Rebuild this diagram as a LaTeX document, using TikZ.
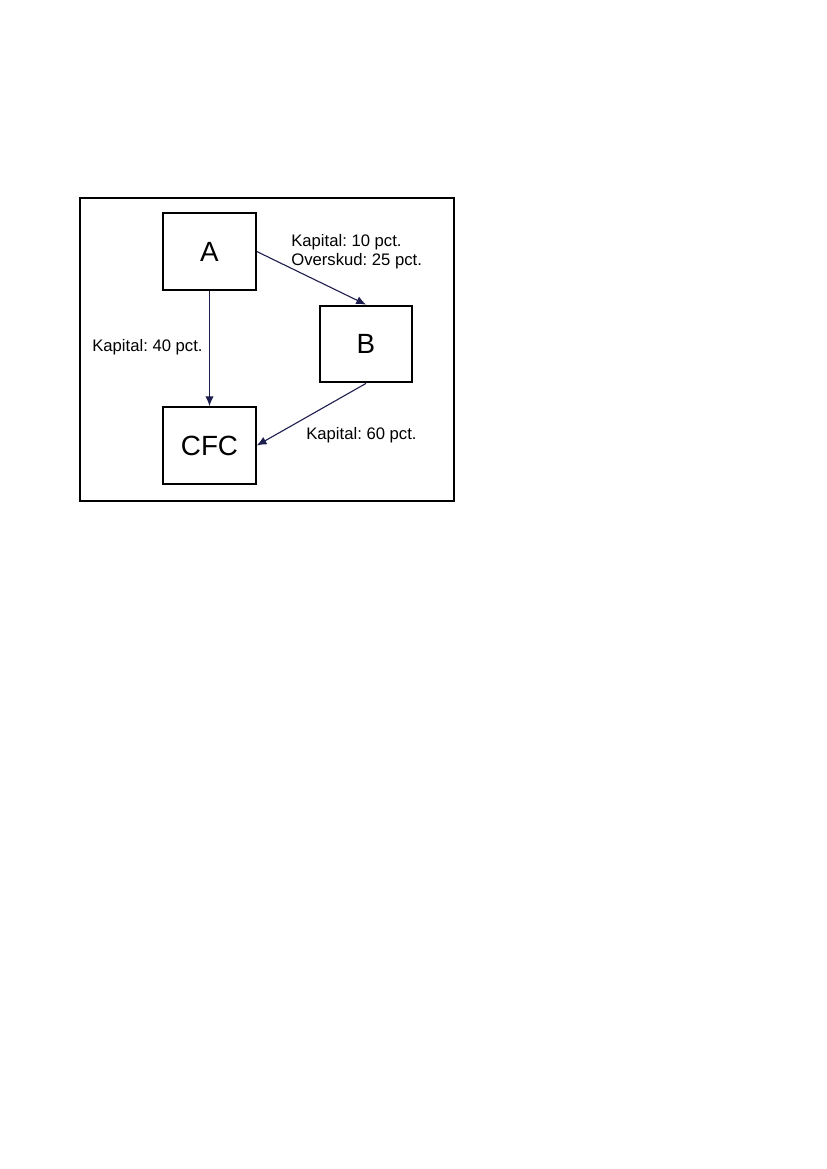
\documentclass[tikz,border=0pt]{standalone}
\usepackage{fontspec}
\setmainfont{Liberation Sans}
\frenchspacing
\usepackage{tikz}
\usetikzlibrary{arrows.meta,positioning}
\definecolor{inknavy}{HTML}{1E1E4E}
\tikzset{
  entbox/.style={
    rectangle, draw=black, line width=1.5pt,
    minimum width=66.5pt, minimum height=55.2pt,
    font=\fontsize{20}{24}\selectfont, inner sep=0pt
  },
  ownarrow/.style={
    -{Latex[length=7pt,width=6pt]}, line width=0.8pt, color=inknavy
  },
  sharelabel/.style={
    font=\fontsize{12}{13.8}\selectfont, align=left, inner sep=0pt
  },
}

\begin{document}
\begin{tikzpicture}[x=0.7195pt, y=-0.7195pt]
  \useasboundingbox (0,0) rectangle (827,1169);

  % outer frame
  \draw[line width=1.5pt] (80,198) rectangle (454,501);

  % companies
  \node[entbox] (A) at (209.5,251.5) {A};
  \node[entbox] (B) at (366,344) {B};
  \node[entbox] (CFC) at (209.5,445.5) {CFC};

  % ownership
  \draw[ownarrow] (A.east) -- (B.north);
  \draw[ownarrow] (A.south) -- (CFC.north);
  \draw[ownarrow] (B.south) -- (CFC.east);

  % shares
  \node[sharelabel, anchor=west] (lab-ab) at (291,251.5) {Kapital: 10 pct.\\Overskud: 25 pct.};
  \node[sharelabel, anchor=west] (lab-ac) at (92,347) {Kapital: 40 pct.};
  \node[sharelabel, anchor=west] (lab-bc) at (306,435) {Kapital: 60 pct.};
\end{tikzpicture}
\end{document}
